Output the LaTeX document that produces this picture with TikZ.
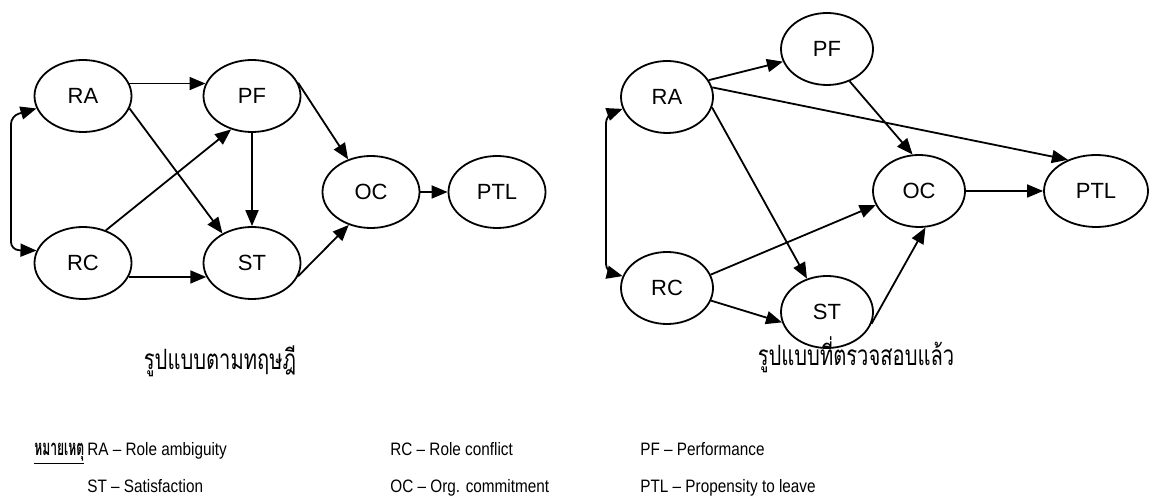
\documentclass[tikz,border=0pt]{standalone}
\usepackage{graphicx}
\usepackage{fontspec}
\setmainfont{Liberation Sans}
\newfontfamily\thaifont[Script=Thai]{Loma}
\newfontfamily\legendfont[FakeStretch=0.85]{Liberation Sans}
\usetikzlibrary{shapes.geometric,arrows.meta}

\tikzset{
  var/.style={ellipse, draw, line width=0.9pt, minimum width=48.5pt,
    minimum height=36pt, inner sep=0pt, font=\fontsize{11}{13}\selectfont},
  var2/.style={var, minimum width=46pt},
  effect/.style={-{Triangle[length=8pt,width=6.5pt]}, line width=0.9pt},
  cov/.style={{Triangle[length=8pt,width=6.5pt]}-{Triangle[length=8pt,width=6.5pt]},
    line width=0.9pt, rounded corners=4pt},
  caption/.style={font=\thaifont\fontsize{14}{16}\selectfont},
  note/.style={anchor=base west, inner sep=0pt, font=\legendfont\fontsize{9}{11}\selectfont},
}

\begin{document}
\begin{tikzpicture}[x=0.5pt,y=-0.5pt]
 \useasboundingbox (0,0) rectangle (1155,496);
 % theoretical model
 \node[var] (ra1) at (83,96) {RA};
 \node[var] (pf1) at (252,96) {PF};
 \node[var] (rc1) at (83,263) {RC};
 \node[var] (st1) at (252,263) {ST};
 \node[var] (oc1) at (371,192) {OC};
 \node[var] (ptl1) at (497,192) {PTL};
 %
 \draw[cov] (ra1.195) -- (11,116) -- (11,250) -- (rc1.165);
 \draw[effect] (ra1.15) -- (pf1.165);
 \draw[effect] (ra1.-15) -- (st1.135);
 \draw[effect] (rc1.55) -- (pf1.-122);
 \draw[effect] (rc1.-17) -- (st1.-163);
 \draw[effect] (pf1.south) -- (st1.north);
 \draw[effect] (pf1.16) -- (oc1.125);
 \draw[effect] (st1.-16) -- (oc1.236);
 \draw[effect] (oc1.east) -- (ptl1.west);
 % tested model
 \node[var2] (ra2) at (667,97) {RA};
 \node[var2] (pf2) at (827,49) {PF};
 \node[var2] (rc2) at (667,288) {RC};
 \node[var2] (st2) at (827,312) {ST};
 \node[var2] (oc2) at (919,191) {OC};
 \node[var2, minimum width=52pt] (ptl2) at (1096,191) {PTL};
 %
 \draw[cov] (ra2.195) -- (606,115) -- (606,272) -- (rc2.165);
 \draw[effect] (ra2.22) -- (pf2.196);
 \draw[effect] (ra2.12) -- (ptl2.132);
 \draw[effect] (ra2.-13) -- (st2.121);
 \draw[effect] (pf2.-55) -- (oc2.100);
 \draw[effect] (rc2.17) -- (oc2.198);
 \draw[effect] (rc2.-16) -- (st2.193);
 \draw[effect] (st2.-15) -- (oc2.280);
 \draw[effect] (oc2.east) -- (ptl2.west);
 % captions
 \node[caption] (cap1) at (220,361) {\scalebox{0.72}[1]{รูปแบบตามทฤษฎี}};
 \node[caption] (cap2) at (856,355) {\scalebox{0.72}[1]{รูปแบบที่ตรวจสอบแล้ว}};
 % legend
 \node[note, font=\thaifont\bfseries\fontsize{11}{13}\selectfont] (nb) at (34,455)
   {\scalebox{0.55}[1]{\underline{หมายเหตุ}}};
 \node[note] (lra) at (87,455) {RA – Role ambiguity};
 \node[note] (lrc) at (390,455) {RC – Role conflict};
 \node[note] (lpf) at (640,455) {PF – Performance};
 \node[note] (lst) at (87,492) {ST – Satisfaction};
 \node[note] (loc) at (390,492) {OC – Org. commitment};
 \node[note] (lptl) at (640,492) {PTL – Propensity to leave};
\end{tikzpicture}
\end{document}
